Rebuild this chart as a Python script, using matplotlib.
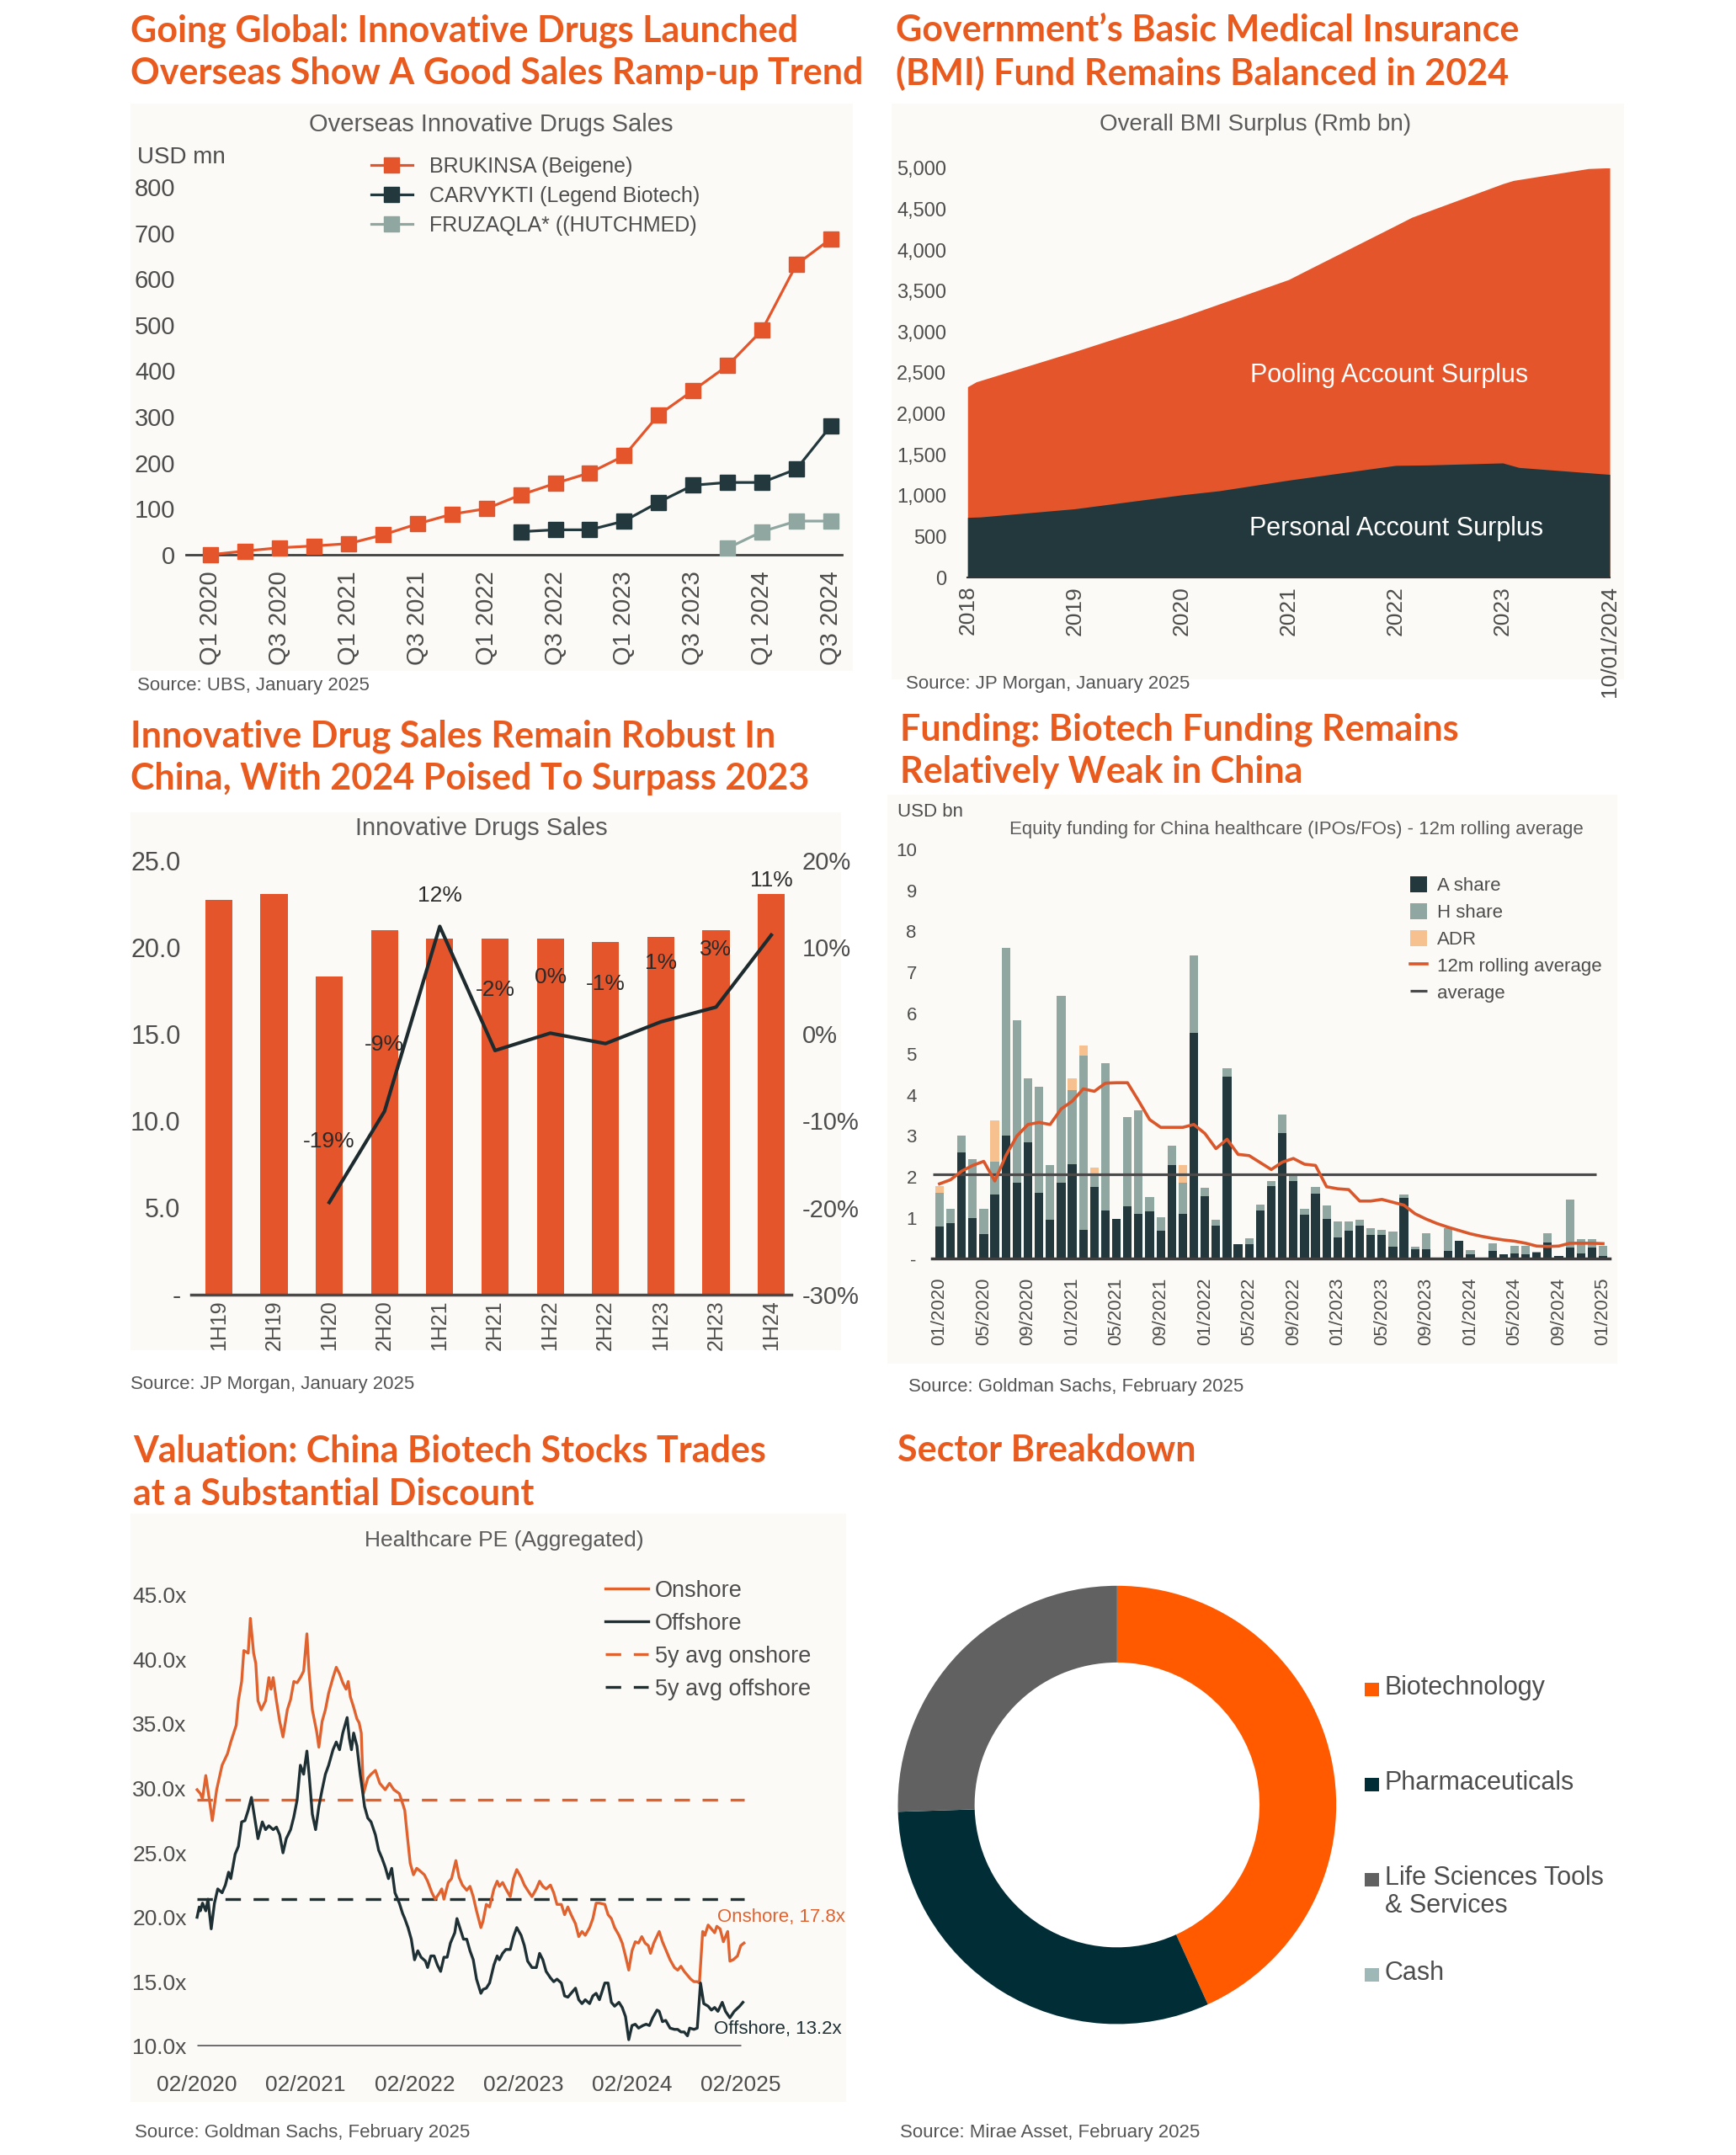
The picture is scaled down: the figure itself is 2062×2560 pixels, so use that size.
import numpy as np
import matplotlib.pyplot as plt
from matplotlib.patches import Rectangle

plt.rcParams['font.family'] = ['Liberation Sans', 'DejaVu Sans']

W, H = 2062, 2560
S = 1.009  # layout scale

# ---------------- data ----------------
# panel 1: overseas innovative drug sales (USD mn)
quarters = ['Q1 2020', 'Q2 2020', 'Q3 2020', 'Q4 2020', 'Q1 2021', 'Q2 2021', 'Q3 2021', 'Q4 2021',
            'Q1 2022', 'Q2 2022', 'Q3 2022', 'Q4 2022', 'Q1 2023', 'Q2 2023', 'Q3 2023', 'Q4 2023',
            'Q1 2024', 'Q2 2024', 'Q3 2024']
brukinsa = [0, 8, 15, 19, 24, 43, 67, 88, 100, 130, 155, 178, 215, 304, 357, 411, 488, 631, 687]
carvykti = [np.nan] * 9 + [50, 54, 54, 73, 114, 151, 157, 157, 186, 280]
fruzaqla = [np.nan] * 15 + [14, 50, 73, 73]

# panel 2: BMI surplus (Rmb bn)
bmi_years = ['2018', '2019', '2020', '2021', '2022', '2023', '10/01/2024']
total_x = [0, 0.08, 1, 2, 3, 3.15, 4, 4.15, 5, 5.1, 5.8, 6]
total_surplus = [2330, 2390, 2760, 3180, 3640, 3740, 4300, 4400, 4810, 4850, 4995, 5005]
personal_x = [0, 0.12, 1, 2, 2.35, 3, 4, 4.3, 5, 5.15, 5.5, 6]
personal_surplus = [735, 740, 840, 1010, 1060, 1190, 1370, 1375, 1400, 1345, 1310, 1260]

# panel 3: innovative drug sales in China
halves = ['1H19', '2H19', '1H20', '2H20', '1H21', '2H21', '1H22', '2H22', '1H23', '2H23', '1H24']
sales = [22.75, 23.05, 18.33, 20.98, 20.48, 20.48, 20.48, 20.32, 20.58, 20.98, 23.05]
growth = [np.nan, np.nan, -19.4, -8.9, 12.4, -1.9, 0.1, -1.1, 1.4, 3.1, 11.4]

# panel 4: equity funding (USD bn), monthly 01/2020 - 01/2025
a_share = [0.78, 0.87, 2.59, 1.00, 0.61, 1.56, 3.00, 1.86, 2.84, 1.62, 0.96, 1.86, 2.31, 0.70, 1.75, 1.17,
           0.97, 1.29, 1.10, 1.16, 0.69, 2.28, 1.10, 5.52, 1.52, 0.81, 4.45, 0.36, 0.35, 1.17, 1.78, 3.08,
           1.90, 1.08, 1.60, 0.97, 0.52, 0.69, 0.81, 0.59, 0.59, 0.29, 1.48, 0.23, 0.23, 0.00, 0.19, 0.43,
           0.12, 0.00, 0.19, 0.12, 0.14, 0.12, 0.15, 0.40, 0.07, 0.28, 0.14, 0.28, 0.07]
h_share = [0.84, 0.35, 0.41, 1.44, 0.61, 0.81, 4.59, 3.97, 1.56, 2.58, 1.33, 4.57, 1.80, 4.26, 0.31, 3.61,
           0.00, 2.18, 2.52, 0.34, 0.33, 0.48, 0.76, 1.88, 0.22, 0.14, 0.21, 0.00, 0.15, 0.16, 0.12, 0.44,
           0.14, 0.14, 0.16, 0.34, 0.39, 0.22, 0.14, 0.15, 0.12, 0.37, 0.09, 0.06, 0.40, 0.00, 0.56, 0.00,
           0.09, 0.00, 0.19, 0.00, 0.17, 0.19, 0.02, 0.23, 0.00, 1.16, 0.34, 0.20, 0.24]
adr = [0.16, 0, 0, 0, 0, 1.00, 0, 0, 0, 0, 0, 0, 0.29, 0.25, 0.17, 0, 0, 0, 0, 0, 0, 0, 0.43, 0, 0,
       0, 0, 0, 0, 0, 0, 0, 0, 0, 0, 0, 0, 0, 0, 0, 0, 0, 0, 0, 0, 0, 0, 0, 0, 0, 0, 0, 0, 0, 0, 0, 0,
       0, 0, 0, 0]
rolling_12m = [1.83, 1.93, 2.14, 2.28, 2.38, 1.90, 2.52, 3.00, 3.28, 3.33, 3.28, 3.66, 3.85, 4.15, 4.09, 4.29,
               4.30, 4.30, 3.86, 3.40, 3.21, 3.21, 3.21, 3.28, 3.06, 2.69, 2.92, 2.55, 2.52, 2.35, 2.18, 2.36,
               2.45, 2.31, 2.28, 1.76, 1.71, 1.69, 1.41, 1.41, 1.45, 1.38, 1.31, 1.10, 0.97, 0.86, 0.77, 0.69,
               0.61, 0.55, 0.50, 0.46, 0.43, 0.38, 0.31, 0.30, 0.31, 0.38, 0.38, 0.38, 0.37]
funding_avg = 2.07
month_labels = ['01/2020', '05/2020', '09/2020', '01/2021', '05/2021', '09/2021', '01/2022', '05/2022',
                '09/2022', '01/2023', '05/2023', '09/2023', '01/2024', '05/2024', '09/2024', '01/2025']

# panel 5: healthcare PE, (years since 02/2020, PE)
onshore_pe = [(0.00, 29.9), (0.03, 29.6), (0.05, 29.2), (0.08, 31.0), (0.11, 29.3), (0.14, 27.5), (0.18, 29.9),
              (0.23, 31.8), (0.28, 32.7), (0.31, 33.6), (0.36, 34.9), (0.38, 36.8), (0.41, 38.3), (0.43, 40.7),
              (0.47, 40.5), (0.49, 43.2), (0.52, 40.5), (0.54, 39.7), (0.56, 36.8), (0.59, 36.1), (0.63, 36.8),
              (0.66, 38.6), (0.68, 37.7), (0.70, 38.6), (0.73, 36.8), (0.76, 35.2), (0.79, 34.0), (0.83, 36.1),
              (0.86, 36.9), (0.89, 38.3), (0.92, 38.2), (0.95, 38.6), (0.98, 39.1), (1.01, 42.0), (1.03, 39.0),
              (1.06, 36.1), (1.10, 34.4), (1.12, 33.2), (1.15, 35.2), (1.18, 36.1), (1.21, 37.4), (1.25, 38.6),
              (1.28, 39.4), (1.31, 38.9), (1.34, 38.2), (1.37, 37.7), (1.39, 38.3), (1.41, 37.1), (1.44, 36.3),
              (1.47, 35.4), (1.49, 35.1), (1.51, 34.3), (1.53, 29.6), (1.57, 30.8), (1.60, 31.1), (1.64, 31.4),
              (1.68, 30.4), (1.73, 29.9), (1.77, 30.4), (1.81, 29.9), (1.86, 29.6), (1.88, 29.1), (1.91, 28.3),
              (1.93, 26.6), (1.96, 24.2), (1.99, 23.3), (2.02, 23.8), (2.05, 23.6), (2.09, 23.3), (2.12, 22.8),
              (2.16, 21.9), (2.19, 21.4), (2.23, 21.9), (2.25, 22.2), (2.27, 21.4), (2.31, 22.7), (2.34, 23.0),
              (2.38, 24.4), (2.41, 23.1), (2.44, 22.5), (2.48, 22.1), (2.51, 22.4), (2.54, 21.6), (2.57, 20.5),
              (2.61, 19.2), (2.63, 19.7), (2.66, 21.0), (2.69, 20.8), (2.73, 22.2), (2.76, 22.8), (2.78, 22.4),
              (2.81, 22.7), (2.84, 22.2), (2.88, 21.6), (2.91, 23.0), (2.94, 23.7), (2.98, 23.1), (3.01, 22.5),
              (3.04, 22.1), (3.08, 21.6), (3.12, 22.2), (3.15, 22.8), (3.18, 22.4), (3.21, 22.2), (3.25, 22.5),
              (3.28, 21.9), (3.31, 21.0), (3.35, 21.0), (3.38, 20.2), (3.41, 20.8), (3.44, 20.2), (3.48, 19.5),
              (3.51, 18.5), (3.54, 18.9), (3.57, 18.6), (3.61, 19.2), (3.64, 19.9), (3.67, 21.1), (3.70, 21.1),
              (3.75, 21.0), (3.78, 20.2), (3.81, 19.9), (3.84, 19.2), (3.88, 18.6), (3.91, 18.0), (3.94, 17.0),
              (3.97, 15.9), (4.00, 17.4), (4.03, 18.1), (4.06, 18.0), (4.09, 18.5), (4.12, 18.0), (4.15, 17.8),
              (4.17, 17.2), (4.20, 18.0), (4.25, 18.9), (4.28, 18.1), (4.31, 17.5), (4.35, 16.7), (4.39, 16.1),
              (4.42, 15.9), (4.45, 16.2), (4.48, 15.8), (4.51, 15.5), (4.54, 15.2), (4.57, 15.0), (4.60, 15.0),
              (4.62, 14.9), (4.65, 18.9), (4.67, 18.6), (4.70, 19.4), (4.73, 19.1), (4.76, 18.8), (4.78, 19.3),
              (4.81, 19.1), (4.84, 18.1), (4.88, 18.9), (4.90, 16.6), (4.93, 16.7), (4.97, 17.0), (5.00, 17.8),
              (5.03, 18.0)]
offshore_pe = [(0.00, 20.0), (0.02, 20.8), (0.03, 20.5), (0.05, 21.1), (0.08, 20.5), (0.10, 21.4), (0.13, 19.1),
               (0.16, 21.1), (0.19, 22.2), (0.23, 21.9), (0.26, 22.5), (0.29, 23.5), (0.31, 23.0), (0.35, 24.9),
               (0.38, 25.5), (0.41, 27.4), (0.44, 27.5), (0.47, 28.3), (0.50, 29.3), (0.53, 27.7), (0.56, 26.1),
               (0.60, 27.4), (0.63, 26.8), (0.66, 27.1), (0.70, 26.8), (0.73, 27.0), (0.76, 26.4), (0.79, 25.0),
               (0.82, 26.1), (0.86, 26.8), (0.89, 27.8), (0.92, 29.1), (0.95, 31.8), (0.98, 31.1), (1.01, 32.9),
               (1.03, 31.1), (1.06, 28.0), (1.09, 26.8), (1.12, 28.6), (1.15, 29.9), (1.18, 31.1), (1.21, 31.8),
               (1.25, 33.0), (1.28, 33.6), (1.31, 33.0), (1.34, 34.3), (1.38, 35.5), (1.40, 33.9), (1.42, 33.0),
               (1.44, 34.3), (1.47, 33.3), (1.50, 31.1), (1.52, 29.9), (1.54, 28.6), (1.57, 27.7), (1.60, 27.4),
               (1.64, 26.4), (1.67, 25.2), (1.70, 24.6), (1.73, 23.9), (1.76, 23.0), (1.79, 23.8), (1.82, 21.9),
               (1.86, 21.1), (1.89, 20.3), (1.91, 19.9), (1.94, 19.2), (1.97, 18.3), (2.00, 16.7), (2.03, 17.4),
               (2.06, 16.9), (2.10, 16.6), (2.12, 16.1), (2.15, 17.0), (2.18, 17.0), (2.21, 16.3), (2.24, 15.8),
               (2.27, 16.9), (2.30, 16.9), (2.33, 18.0), (2.37, 18.8), (2.39, 19.9), (2.42, 19.1), (2.45, 18.3),
               (2.48, 18.3), (2.51, 17.4), (2.54, 16.7), (2.57, 15.2), (2.61, 14.1), (2.63, 14.4), (2.66, 14.5),
               (2.69, 14.9), (2.73, 16.3), (2.76, 17.0), (2.78, 16.7), (2.81, 17.2), (2.84, 17.5), (2.88, 17.5),
               (2.91, 18.5), (2.94, 19.2), (2.98, 18.6), (3.01, 17.8), (3.04, 16.6), (3.08, 16.1), (3.12, 16.1),
               (3.15, 17.2), (3.18, 16.7), (3.21, 15.8), (3.25, 15.3), (3.28, 15.0), (3.31, 15.2), (3.35, 14.9),
               (3.38, 13.9), (3.41, 13.8), (3.44, 14.1), (3.48, 14.5), (3.51, 13.6), (3.54, 13.3), (3.57, 13.6),
               (3.61, 13.3), (3.64, 13.9), (3.67, 14.1), (3.70, 13.6), (3.75, 14.9), (3.78, 14.9), (3.81, 13.4),
               (3.84, 13.1), (3.88, 13.4), (3.91, 13.0), (3.94, 12.3), (3.97, 10.5), (4.00, 11.6), (4.03, 11.7),
               (4.06, 11.4), (4.10, 11.6), (4.13, 11.7), (4.16, 11.6), (4.19, 12.2), (4.23, 12.8), (4.25, 12.7),
               (4.28, 11.9), (4.31, 12.0), (4.35, 11.4), (4.39, 11.3), (4.42, 11.3), (4.45, 11.1), (4.48, 11.1),
               (4.51, 10.8), (4.53, 11.4), (4.57, 11.3), (4.60, 11.4), (4.63, 14.9), (4.66, 13.3), (4.70, 13.1),
               (4.73, 12.8), (4.76, 13.0), (4.79, 12.7), (4.83, 13.4), (4.86, 12.7), (4.90, 12.2), (4.94, 12.7),
               (4.99, 13.1), (5.02, 13.4)]
avg5y_onshore = 29.1
avg5y_offshore = 21.4
pe_dates = ['02/2020', '02/2021', '02/2022', '02/2023', '02/2024', '02/2025']
onshore_last = 17.8
offshore_last = 13.2

# panel 6: sector breakdown (%)
sectors = ['Biotechnology', 'Pharmaceuticals', 'Life Sciences Tools\n& Services', 'Cash']
sector_weights = [43.2, 31.3, 25.5, 0.0]

# ---------------- style ----------------
TITLE_C = '#E95A1F'
TXT = '#4d4d4d'
ORANGE = '#E4552B'
DARK = '#23383D'
SAGE = '#8FA6A1'
PEACH = '#F6C08F'
BG = '#FBFAF6'


def box(l, t, r, b):
    return [l * S / W, 1 - b * S / H, (r - l) * S / W, (b - t) * S / H]


def fx(x):
    return x * S / W


def fy(y):
    return 1 - y * S / H


fig = plt.figure(figsize=(W / 100, H / 100), dpi=100)
fig.patch.set_facecolor('white')

for l, t, r, b in [(154, 122, 1004, 790), (1050, 122, 1912, 800), (154, 956, 990, 1590),
                   (1045, 936, 1904, 1606), (154, 1782, 996, 2475)]:
    fig.add_artist(Rectangle((fx(l), fy(b)), (r - l) * S / W, (b - t) * S / H, transform=fig.transFigure,
                             facecolor=BG, edgecolor='none', zorder=-5))


def title(x, y, lines):
    for i, line in enumerate(lines):
        fig.text(fx(x), fy(y + i * 50), line, fontsize=31, fontweight='bold', family='Lato',
                 color=TITLE_C, ha='left', va='center')


def subtitle(x, y, s, size):
    fig.text(fx(x), fy(y), s, fontsize=size, color='#5a5a5a', ha='center', va='center')


def source(x, y, s):
    fig.text(fx(x), fy(y), s, fontsize=16, color='#555555', ha='left', va='center')


def clean(ax, keep_bottom=True, color='#404040', lw=2):
    for side in ['top', 'right', 'left']:
        ax.spines[side].set_visible(False)
    if keep_bottom:
        ax.spines['bottom'].set_color(color)
        ax.spines['bottom'].set_linewidth(lw)
    else:
        ax.spines['bottom'].set_visible(False)
    ax.patch.set_alpha(0)
    ax.tick_params(length=0, colors=TXT)


# ---------------- panel 1 ----------------
title(154, 36, ['Going Global: Innovative Drugs Launched', 'Overseas Show A Good Sales Ramp-up Trend'])
subtitle(578, 147, 'Overseas Innovative Drugs Sales', 21)
ax1 = fig.add_axes(box(219, 220, 991, 653))
x1 = np.arange(len(quarters))
for vals, col, lab in [(brukinsa, ORANGE, 'BRUKINSA (Beigene)'),
                       (carvykti, DARK, 'CARVYKTI (Legend Biotech)'),
                       (fruzaqla, SAGE, 'FRUZAQLA* ((HUTCHMED)')]:
    ax1.plot(x1, vals, '-s', color=col, lw=2.3, ms=13, label=lab, clip_on=False, zorder=3)
ax1.set_xlim(-0.72, 18.32)
ax1.set_ylim(0, 800)
clean(ax1)
ax1.set_yticks(range(0, 801, 100))
ax1.tick_params(axis='y', labelsize=21, pad=9)
ax1.set_xticks(x1[::2])
ax1.set_xticklabels(quarters[::2], rotation=90, fontsize=21)
ax1.tick_params(axis='x', pad=14)
fig.text(fx(162), fy(185), 'USD mn', fontsize=20, color=TXT, ha='left', va='center')
ax1.legend(loc='upper left', bbox_to_anchor=(fx(437), fy(184)), bbox_transform=fig.transFigure,
           frameon=False, fontsize=18, handlelength=1.95, handletextpad=0.8, labelspacing=0.45,
           borderpad=0, borderaxespad=0, labelcolor=TXT)
source(162, 807, 'Source: UBS, January 2025')

# ---------------- panel 2 ----------------
title(1055, 36, ['Government\u2019s Basic Medical Insurance', '(BMI) Fund Remains Balanced in 2024'])
subtitle(1478, 147, 'Overall BMI Surplus (Rmb bn)', 20)
ax2 = fig.add_axes(box(1139, 198, 1895, 680))
ax2.fill_between(total_x, 0, total_surplus, color=ORANGE, lw=0)
ax2.fill_between(personal_x, 0, personal_surplus, color=DARK, lw=0)
ax2.set_xlim(0, 6)
ax2.set_ylim(0, 5000)
clean(ax2, color='#333333', lw=1.5)
ax2.set_yticks(range(0, 5001, 500))
ax2.set_yticklabels(['{:,}'.format(v) for v in range(0, 5001, 500)], fontsize=17)
ax2.tick_params(axis='y', pad=18)
ax2.set_xticks(range(len(bmi_years)))
ax2.set_xticklabels(bmi_years, rotation=90, fontsize=19)
ax2.tick_params(axis='x', pad=7)
ax2.text(3.94, 2470, 'Pooling Account Surplus', color='white', fontsize=22, ha='center', va='center')
ax2.text(4.01, 600, 'Personal Account Surplus', color='white', fontsize=22, ha='center', va='center')
source(1066, 805, 'Source: JP Morgan, January 2025')

# ---------------- panel 3 ----------------
title(154, 867, ['Innovative Drug Sales Remain Robust In', 'China, With 2024 Poised To Surpass 2023'])
subtitle(567, 975, 'Innovative Drugs Sales', 21)
ax3 = fig.add_axes(box(225, 1013, 932, 1524))
x3 = np.arange(len(halves))
ax3.bar(x3, sales, width=0.49, color=ORANGE, zorder=2)
ax3.set_xlim(-0.5, 10.37)
ax3.set_ylim(0, 25)
clean(ax3, color='#4a4a4a', lw=2.5)
ax3.set_yticks(range(0, 26, 5))
ax3.set_yticklabels(['-'] + ['%.1f' % v for v in range(5, 26, 5)], fontsize=22)
ax3.tick_params(axis='y', pad=9)
ax3.set_xticks(x3)
ax3.set_xticklabels(halves, rotation=90, fontsize=18)
ax3.tick_params(axis='x', pad=5)
ax3b = ax3.twinx()
ax3b.set_ylim(-30, 20)
for side in ['top', 'right', 'left', 'bottom']:
    ax3b.spines[side].set_visible(False)
ax3b.tick_params(length=0, colors=TXT, labelsize=21, pad=9)
ax3b.set_yticks(range(-30, 21, 10))
ax3b.set_yticklabels(['%d%%' % v for v in range(-30, 21, 10)])
ax3b.plot(x3, growth, color='#1E2B2E', lw=3, zorder=4)
label_offsets = [52, 57, 26, 52, 48, 51, 50, 49, 47]
for xi, g, off in zip(x3[2:], growth[2:], label_offsets):
    ax3b.annotate('%.0f%%' % g, (xi, g), xytext=(0, off), textcoords='offset points',
                  ha='center', va='center', fontsize=19, color='#2a2a2a')
source(154, 1630, 'Source: JP Morgan, January 2025')

# ---------------- panel 4 ----------------
title(1059, 859, ['Funding: Biotech Funding Remains', 'Relatively Weak in China'])
fig.text(fx(1056), fy(956), 'USD bn', fontsize=16, color=TXT, ha='left', va='center')
subtitle(1526, 977, 'Equity funding for China healthcare (IPOs/FOs) - 12m rolling average', 16)
ax4 = fig.add_axes(box(1097, 1000, 1895, 1482))
x4 = np.arange(len(a_share))
a_arr, h_arr, adr_arr = np.array(a_share), np.array(h_share), np.array(adr)
b_a = ax4.bar(x4, a_arr, width=0.78, color=DARK, label='A share', zorder=2)
b_h = ax4.bar(x4, h_arr, bottom=a_arr, width=0.78, color=SAGE, label='H share', zorder=2)
b_adr = ax4.bar(x4, adr_arr, bottom=a_arr + h_arr, width=0.78, color=PEACH, label='ADR', zorder=2)
l_roll, = ax4.plot(x4, rolling_12m, color='#D9572B', lw=2.6, label='12m rolling average', zorder=4)
l_avg = ax4.hlines(funding_avg, -0.6, 59.4, color='#4a4a4a', lw=2.3, label='average', zorder=3)
ax4.set_xlim(-0.69, 60.61)
ax4.set_ylim(0, 10)
clean(ax4, color='#3d3d3d', lw=2.5)
ax4.set_yticks(range(0, 11))
ax4.set_yticklabels(['-'] + [str(v) for v in range(1, 11)], fontsize=16)
ax4.tick_params(axis='y', pad=13)
ax4.set_xticks(x4[::4])
ax4.set_xticklabels(month_labels, rotation=90, fontsize=16)
ax4.tick_params(axis='x', pad=16)
ax4.legend(handles=[b_a, b_h, b_adr, l_roll, l_avg], loc='upper left',
           bbox_to_anchor=(fx(1660), fy(1032)), bbox_transform=fig.transFigure,
           frameon=False, fontsize=16, handlelength=0.9, handleheight=0.9, handletextpad=0.55,
           labelspacing=0.45, borderpad=0, borderaxespad=0, labelcolor=TXT)
source(1069, 1633, 'Source: Goldman Sachs, February 2025')

# ---------------- panel 5 ----------------
title(157, 1709, ['Valuation: China Biotech Stocks Trades', 'at a Substantial Discount'])
subtitle(593, 1814, 'Healthcare PE (Aggregated)', 19)
ax5 = fig.add_axes(box(224, 1878, 880, 2409))
on_t, on_v = zip(*onshore_pe)
off_t, off_v = zip(*offshore_pe)
ax5.hlines(10, 0, 5.0, color='#6b6b6b', lw=3.5, zorder=1)
ax5.plot(on_t, on_v, color='#E0622F', lw=2.4, label='Onshore', zorder=3)
ax5.plot(off_t, off_v, color='#1F3035', lw=2.4, label='Offshore', zorder=3)
ax5.hlines(avg5y_onshore, 0, 5.03, color='#E0622F', lw=2.4, linestyles=(0, (5.5, 4.5)),
           label='5y avg onshore', zorder=2)
ax5.hlines(avg5y_offshore, 0, 5.03, color='#1F3035', lw=2.4, linestyles=(0, (5.5, 4.5)),
           label='5y avg offshore', zorder=2)
ax5.set_xlim(-0.0625, 5.0625)
ax5.set_ylim(10, 45)
clean(ax5, keep_bottom=False)
ax5.set_yticks(range(10, 46, 5))
ax5.set_yticklabels(['%.1fx' % v for v in range(10, 46, 5)], fontsize=19)
ax5.tick_params(axis='y', pad=3)
ax5.set_xticks(range(len(pe_dates)))
ax5.set_xticklabels(pe_dates, fontsize=19)
ax5.tick_params(axis='x', pad=25)
ax5.annotate('Onshore, %.1fx' % onshore_last, (on_t[-1], on_v[-1]), xytext=(-23, 22),
             textcoords='offset points', fontsize=16, color='#E0622F', ha='left', va='center')
ax5.annotate('Offshore, %.1fx' % offshore_last, (off_t[-1], off_v[-1]), xytext=(-25, -23),
             textcoords='offset points', fontsize=16, color='#1F3035', ha='left', va='center')
ax5.legend(loc='upper left', bbox_to_anchor=(fx(713), fy(1860)), bbox_transform=fig.transFigure,
           frameon=False, fontsize=19.5, handlelength=1.85, handletextpad=0.3, labelspacing=0.48,
           borderpad=0, borderaxespad=0, labelcolor=TXT)
source(159, 2511, 'Source: Goldman Sachs, February 2025')

# ---------------- panel 6 ----------------
title(1056, 1708, ['Sector Breakdown'])
sector_colors = ['#FF5A00', '#002D36', '#616161', '#9DB8B6']
ax6 = fig.add_axes(box(1315 - 258, 2125 - 258, 1315 + 258, 2125 + 258))
ax6.pie(sector_weights, colors=sector_colors, startangle=90, counterclock=False, radius=1,
        wedgeprops=dict(width=0.35, linewidth=0))
ax6.set_xlim(-1, 1)
ax6.set_ylim(-1, 1)
# legend rows, first-line centres
for i, (name, col) in enumerate(zip(sectors, sector_colors)):
    yc = 1989 + 112 * i
    fig.add_artist(Rectangle((fx(1607), fy(yc + 8)), 16 * S / W, 16 * S / H, transform=fig.transFigure,
                             facecolor=col, edgecolor='none'))
    fig.text(fx(1630), fy(yc - 17), name, fontsize=22, color=TXT, ha='left', va='top',
             linespacing=1.16)
source(1059, 2511, 'Source: Mirae Asset, February 2025')

fig.savefig('out.png', dpi=100, facecolor='white')
